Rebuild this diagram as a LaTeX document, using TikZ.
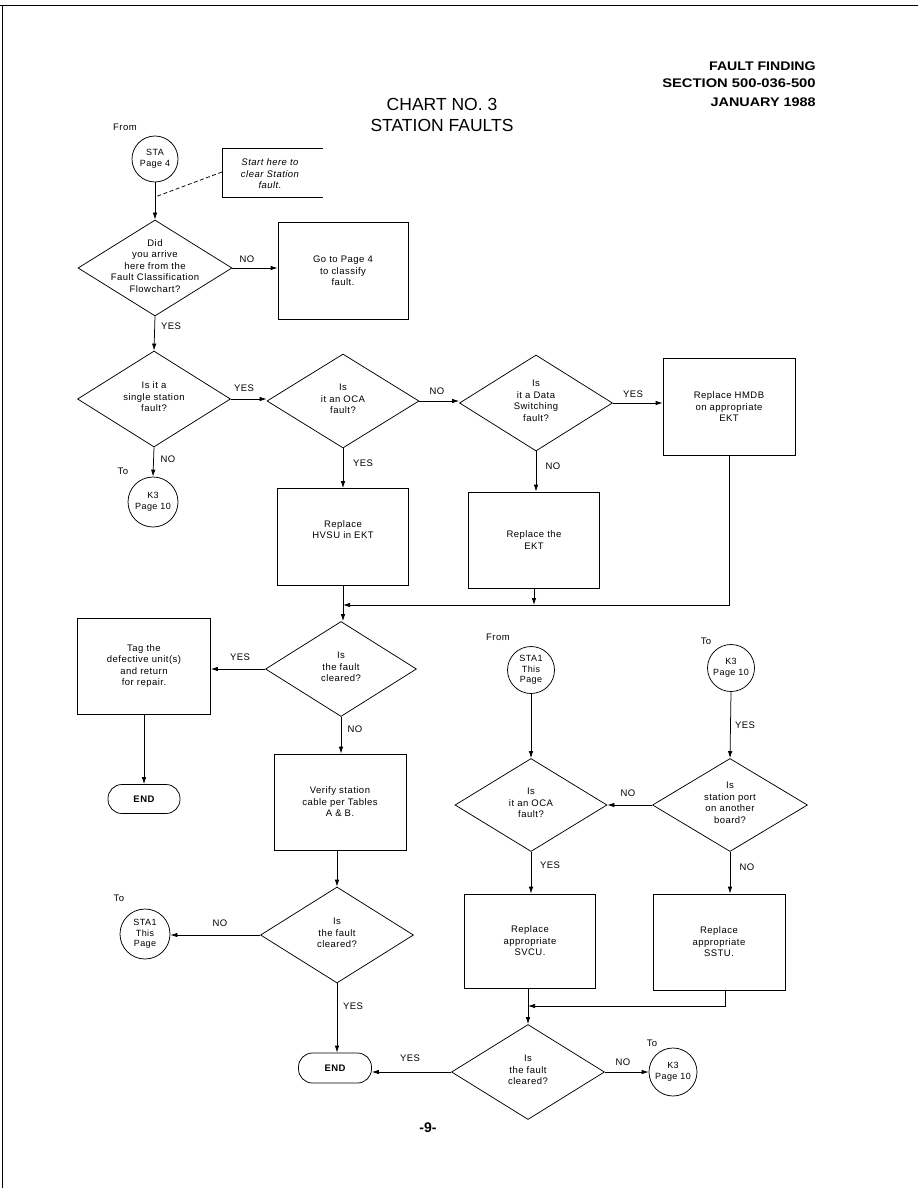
\documentclass[tikz,border=0pt]{standalone}
\usepackage{fontspec}
\usepackage{graphicx}
\usetikzlibrary{shapes.geometric,arrows.meta}
\newfontfamily\df{Liberation Sans}[LetterSpace=5]
\newfontfamily\hf{Liberation Sans}
\newcommand\dtxt[1]{\raisebox{-0.25em}{\makebox[0pt]{\smash{\begin{tabular}{@{}c@{}}#1\end{tabular}}}}}
\begin{document}
\begin{tikzpicture}[x=1pt,y=-1pt,line width=0.75pt,
  every node/.style={font=\df\fontsize{9.5}{11.5}\selectfont, inner sep=0pt},
  box/.style={draw, rectangle, align=center},
  dia/.style={draw, diamond, inner sep=0pt},
  conn/.style={draw, circle, align=center, minimum size=48pt, font=\df\fontsize{9}{10.5}\selectfont},
  term/.style={draw, rectangle, rounded corners=14pt, minimum width=72pt, minimum height=29pt, font=\df\bfseries\fontsize{9.5}{11.5}\selectfont},
  arr/.style={-{Latex[length=7pt,width=4.5pt]}},
  hdr/.style={anchor=east, font=\hf\bfseries\fontsize{12.5}{14}\selectfont},
  ttl/.style={font=\hf\fontsize{17.5}{20}\selectfont}]
\useasboundingbox (0,0) rectangle (918,1188);
% page border
\draw[line width=0.6pt] (0,5) -- (918,5);
\draw[line width=0.6pt] (2,5) -- (2,1188);
% header
\node[hdr] (h1) at (816,66) {\scalebox{1.13}[1]{FAULT FINDING}};
\node[hdr] (h2) at (816,83) {\scalebox{1.18}[1]{SECTION 500-036-500}};
\node[hdr] (h3) at (816,102) {\scalebox{1.15}[1]{JANUARY 1988}};
\node[ttl] (t1) at (442,104) {CHART NO. 3};
\node[ttl] (t2) at (442,125) {STATION FAULTS};
\node[font=\hf\bfseries\fontsize{14}{16}\selectfont] (pg) at (428,1128) {-9-};

% top column
\node (from1) at (125,127) {From};
\node[conn, minimum size=46pt] (sta) at (155,159) {STA\\Page 4};
\coordinate (sbTR) at (323,148);
\coordinate (sbTL) at (222,148);
\coordinate (sbBL) at (222,197);
\coordinate (sbBR) at (323,197);
\draw (sbTR) -- (sbTL) -- (sbBL) -- (sbBR);
\node[align=center, font=\df\itshape\fontsize{9.5}{11.5}\selectfont] (start) at (270,174) {Start here to\\clear Station\\fault.};
\coordinate (sd1) at (155,197);
\coordinate (sd2) at (222,172);
\draw[dashed, dash pattern=on 4pt off 2.5pt] (sd2) -- (sd1);

\node[dia, minimum width=154pt, minimum height=96pt] (d1) at (155,268)
  {\dtxt{Did\\you arrive\\here from the\\Fault Classification\\Flowchart?}};
\node[box, minimum width=130pt, minimum height=97pt] (b1) at (343,271) {Go to Page 4\\to classify\\fault.};
\draw[arr] (sta) -- (d1);
\draw[arr] (d1.east) -- (d1.east -| b1.west);
\node (l1) at (247,259) {NO};

\node[dia, minimum width=153pt, minimum height=96pt] (d2) at (154,399)
  {\dtxt{Is it a\\single station\\fault?}};
\draw[arr] (d1.south) -- (d2.north);
\node (l2) at (171,326) {YES};

\node[dia, minimum width=152pt, minimum height=94pt] (d3) at (343,401)
  {\dtxt{Is\\it an OCA\\fault?}};
\draw[arr] (d2.east) -- (d2.east -| d3.west);
\node (l3) at (244,388) {YES};

\node[dia, minimum width=153pt, minimum height=96pt] (d4) at (536,403)
  {\dtxt{Is\\it a Data\\Switching\\fault?}};
\draw[arr] (d3.east) -- (d3.east -| d4.west);
\node (l4) at (437,391) {NO};

\node[box, minimum width=132pt, minimum height=97pt] (hmdb) at (729,407) {Replace HMDB\\on appropriate\\EKT};
\draw[arr] (d4.east) -- (d4.east -| hmdb.west);
\node (l5) at (633,394) {YES};

\node (to1) at (123,471) {To};
\node[conn, minimum size=50pt] (k3a) at (153,502) {K3\\Page 10};
\draw[arr] (d2.south) -- (k3a.north);
\node (l6) at (168,459) {NO};

\node[box, minimum width=131pt, minimum height=97pt] (hvsu) at (343,537) {Replace\\HVSU in EKT\\[3pt]~};
\draw[arr] (d3.south) -- (hvsu.north);
\node (l7) at (363,463) {YES};

\node[box, minimum width=131pt, minimum height=96pt] (ekt) at (534,540) {Replace the\\EKT};
\draw[arr] (d4.south) -- (d4.south |- ekt.north);
\node (l8) at (553,466) {NO};

% merge
\coordinate (m1) at (343,605);
\draw[arr] (hmdb.south) |- (m1);
\draw[arr] (ekt.south) -- (ekt.south |- m1);

\node[dia, minimum width=151pt, minimum height=95pt] (d5) at (341,669)
  {\dtxt{Is\\the fault\\cleared?}};
\draw[arr] (hvsu.south) -- (hvsu.south |- d5.north);

\node[box, minimum width=133pt, minimum height=96pt] (tag) at (144,666) {Tag the\\defective unit(s)\\and return\\for repair.};
\draw[arr] (d5.west) -- (d5.west -| tag.east);
\node (l9) at (240,657) {YES};

\node[term] (end1) at (144,799) {END};
\draw[arr] (tag.south) -- (end1.north);

\node[box, minimum width=132pt, minimum height=96pt] (verify) at (340,802) {Verify station\\cable per Tables\\A \& B.};
\draw[arr] (d5.south) -- (d5.south |- verify.north);
\node (l10) at (355,729) {NO};

\node[dia, minimum width=153pt, minimum height=96pt] (d6) at (337,935)
  {\dtxt{Is\\the fault\\cleared?}};
\draw[arr] (d6.north |- verify.south) -- (d6.north);

\node (to2) at (119,898) {To};
\node[conn, minimum size=50pt] (sta1b) at (145,934) {STA1\\This\\Page};
\draw[arr] (d6.west) -- (d6.west -| sta1b.east);
\node (l11) at (220,923) {NO};

\node[term, minimum width=73pt, minimum height=30pt] (end2) at (335,1068) {END};
\draw[arr] (d6.south) -- (d6.south |- end2.north);
\node (l12) at (353,1006) {YES};

% lower right
\node (from2) at (498,637) {From};
\node[conn, minimum size=47pt] (sta1a) at (531,670) {STA1\\This\\Page};
\node[dia, minimum width=152pt, minimum height=93pt] (d7) at (531,805)
  {\dtxt{Is\\it an OCA\\fault?}};
\draw[arr] (sta1a.south) -- (d7.north);

\node (to3) at (706,641) {To};
\node[conn, minimum size=47pt] (k3b) at (731,668) {K3\\Page 10};
\node[dia, minimum width=155pt, minimum height=93pt] (d8) at (730,805)
  {\dtxt{Is\\station port\\on another\\board?}};
\draw[arr] (k3b.south) -- (d8.north);
\node (l13) at (745,725) {YES};
\draw[arr] (d8.west) -- (d7.east);
\node (l14) at (628,793) {NO};

\node[box, minimum width=131pt, minimum height=94pt] (svcu) at (530,941) {Replace\\appropriate\\SVCU.};
\draw[arr] (d7.south) -- (d7.south |- svcu.north);
\node (l15) at (550,865) {YES};

\node[box, minimum width=132pt, minimum height=96pt] (sstu) at (719,942) {Replace\\appropriate\\SSTU.};
\draw[arr] (d8.south) -- (d8.south |- sstu.north);
\node (l16) at (747,867) {NO};

\coordinate (m2) at (528,1006);
\draw[arr] (sstu.south -| 725,0) |- (m2);

\node[dia, minimum width=153pt, minimum height=95pt] (d9) at (528,1072)
  {\dtxt{Is\\the fault\\cleared?}};
\draw[arr] (d9.north |- svcu.south) -- (d9.north);
\draw[arr] (d9.west) -- (d9.west -| end2.east);
\node (l17) at (410,1058) {YES};

\node (to4) at (652,1043) {To};
\node[conn, minimum size=48pt] (k3c) at (673,1072) {K3\\Page 10};
\draw[arr] (d9.east) -- (k3c.west);
\node (l18) at (623,1062) {NO};
\end{tikzpicture}
\end{document}
